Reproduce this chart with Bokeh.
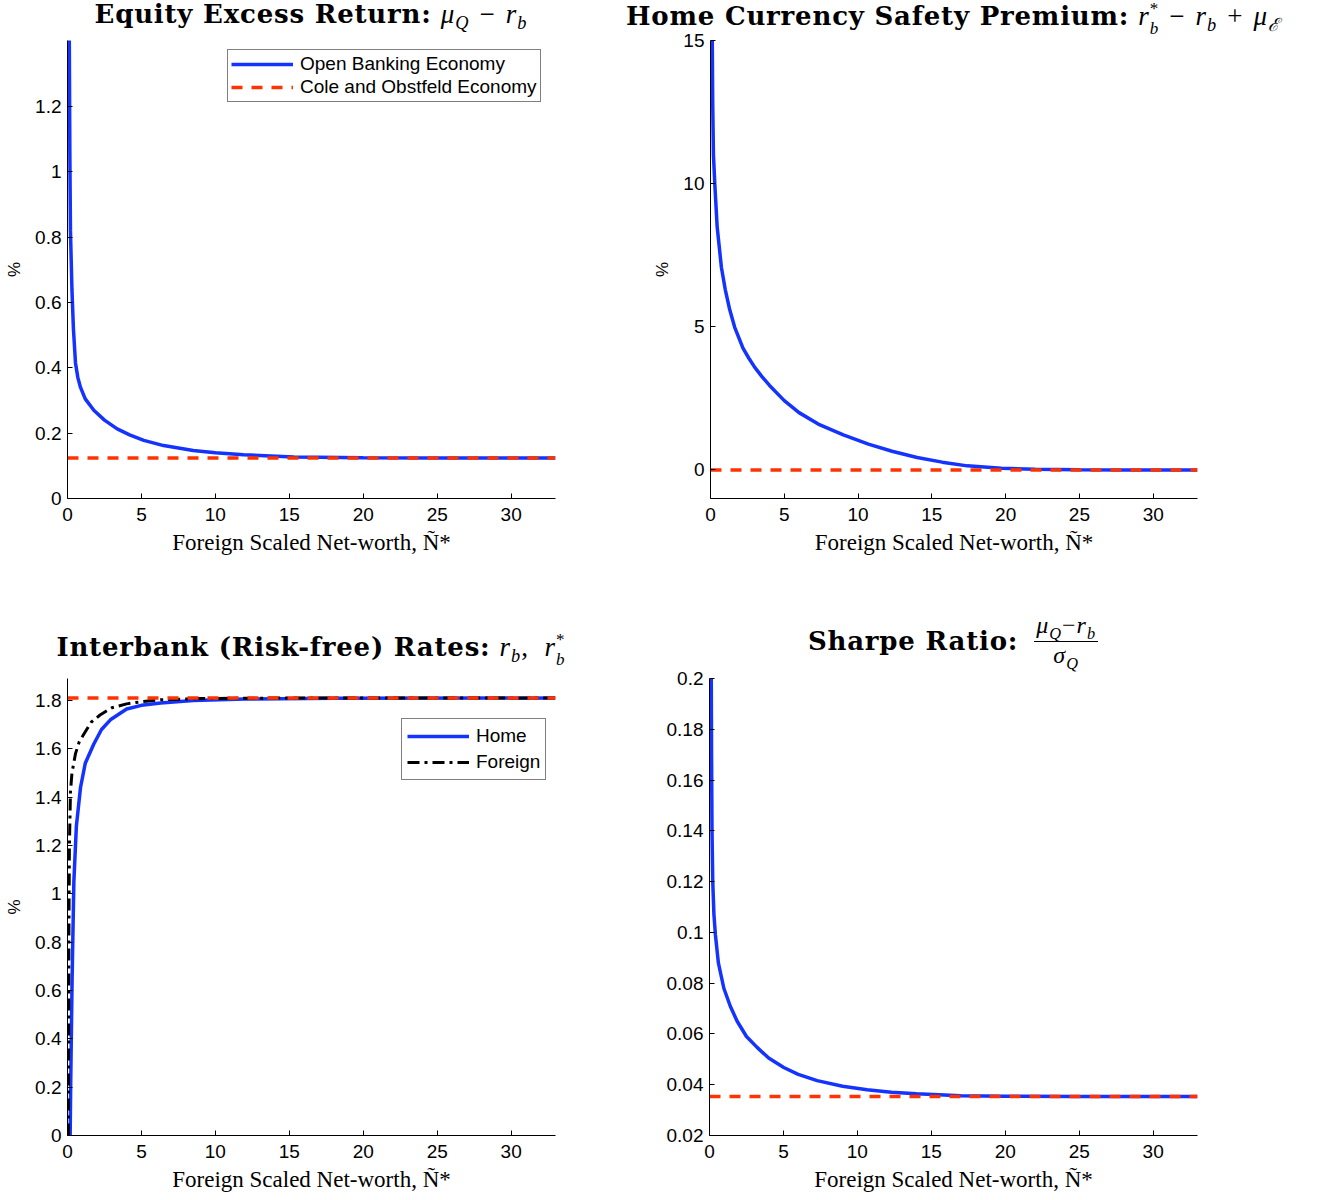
from bokeh.plotting import figure
from bokeh.models import (Range1d, FixedTicker, CustomJSTickFormatter, Legend,
                          LegendItem, Div)
from bokeh.layouts import column, row
from bokeh.embed import file_html
from bokeh.resources import INLINE

# ---------------- data ----------------
x_ticks = [0, 5, 10, 15, 20, 25, 30]
x_max = 33

# Panel 1: Equity excess return (%)
eq_x = [0.12, 0.16, 0.2, 0.3, 0.4, 0.54, 0.7, 0.88, 1.2, 1.78, 2.5, 3.36, 4.2,
        5.16, 6.5, 8.5, 10.0, 11.9, 15.3, 20.0, 25.0, 33.0]
eq_open = [1.42, 1.05, 0.82, 0.64, 0.52, 0.415, 0.37, 0.34, 0.305, 0.27, 0.24,
           0.213, 0.195, 0.178, 0.162, 0.147, 0.14, 0.134, 0.127, 0.125, 0.124, 0.124]
eq_cole = 0.124
eq_yticks = [0, 0.2, 0.4, 0.6, 0.8, 1.0, 1.2]
eq_ylim = (0, 1.402)

# Panel 2: Home currency safety premium (%)
sp_x = [0.12, 0.15, 0.2, 0.29, 0.45, 0.74, 1.0, 1.3, 1.64, 2.2, 2.6, 3.0, 3.5,
        4.0, 5.0, 6.0, 7.3, 9.0, 10.7, 12.3, 14.0, 15.7, 17.4, 19.7, 22.0, 25.0,
        28.0, 33.0]
sp_open = [15.0, 12.8, 11.0, 10.0, 8.5, 7.07, 6.3, 5.6, 4.98, 4.25, 3.9, 3.58,
           3.25, 2.95, 2.42, 2.0, 1.6, 1.22, 0.9, 0.65, 0.43, 0.27, 0.14, 0.06,
           0.02, 0.005, 0.0, 0.0]
sp_cole = 0.0
sp_yticks = [0, 5, 10, 15]
sp_ylim = (-1, 15)

# Panel 3: Interbank (risk-free) rates (%)
rb_home_x = [0.18, 0.22, 0.31, 0.43, 0.6, 0.88, 1.2, 1.78, 2.3, 2.9, 4.0, 5.0,
             6.3, 8.5, 12.0, 18.0, 33.0]
rb_home = [0.0, 0.23, 0.64, 1.05, 1.28, 1.44, 1.54, 1.62, 1.68, 1.72, 1.765,
           1.78, 1.79, 1.80, 1.806, 1.809, 1.81]
rb_for_x = [0.06, 0.08, 0.1, 0.13, 0.2, 0.3, 0.54, 0.8, 1.1, 1.6, 2.2, 3.0, 4.0,
            5.0, 6.3, 9.0, 14.0, 33.0]
rb_foreign = [0.0, 0.5, 0.9, 1.2, 1.42, 1.5, 1.58, 1.63, 1.66, 1.71, 1.74, 1.77,
              1.786, 1.795, 1.803, 1.808, 1.81, 1.81]
rb_cole = 1.81
rb_yticks = [0, 0.2, 0.4, 0.6, 0.8, 1.0, 1.2, 1.4, 1.6, 1.8]
rb_ylim = (0, 1.891)

# Panel 4: Sharpe ratio
sr_x = [0.12, 0.14, 0.17, 0.22, 0.3, 0.4, 0.6, 0.97, 1.4, 1.87, 2.5, 3.22, 4.0,
        5.02, 6.0, 7.28, 9.0, 10.66, 12.3, 14.0, 17.0, 20.0, 25.0, 33.0]
sr_open = [0.2, 0.17, 0.14, 0.12, 0.107, 0.099, 0.088, 0.078, 0.071, 0.065,
           0.059, 0.0547, 0.0505, 0.0468, 0.0441, 0.0416, 0.0394, 0.038, 0.037,
           0.0364, 0.0357, 0.0355, 0.0354, 0.0354]
sr_cole = 0.0354
sr_yticks = [0.02, 0.04, 0.06, 0.08, 0.1, 0.12, 0.14, 0.16, 0.18, 0.2]
sr_ylim = (0.02, 0.2)

const_x = [0, x_max]

# ---------------- style ----------------
BLUE = "#1433ff"
RED = "#ff3300"
TICK_FONT = "Liberation Sans"
LABEL_FONT = "Liberation Serif"

BL1, BL2, FW = 67, 59, 488
C1_W = BL1 + FW + 95
C2_W = BL2 + FW + 110
TOP_FH, BOT_FH = 458, 457
BT = 11
BB1, BB2 = 102, 64

fmt = CustomJSTickFormatter(code="return String(Math.round(tick*1000)/1000)")


def make_fig(width, height, bl, bt, bb, ylim, yticks, ylabel):
    p = figure(width=width, height=height, output_backend="svg",
               toolbar_location=None, x_range=Range1d(0, x_max),
               y_range=Range1d(*ylim), min_border_left=bl,
               min_border_right=width - bl - FW, min_border_top=bt,
               min_border_bottom=bb)
    p.outline_line_color = None
    p.grid.visible = False
    p.border_fill_color = None
    p.background_fill_color = "white"
    for ax in (p.xaxis[0], p.yaxis[0]):
        ax.axis_line_color = "black"
        ax.axis_line_width = 1
        ax.major_tick_line_color = "black"
        ax.major_tick_in = 5
        ax.major_tick_out = 0
        ax.minor_tick_line_color = None
        ax.major_label_text_font = TICK_FONT
        ax.major_label_text_font_size = "19px"
        ax.major_label_text_color = "black"
        ax.formatter = fmt
    p.xaxis.ticker = FixedTicker(ticks=x_ticks)
    p.yaxis.ticker = FixedTicker(ticks=yticks)
    p.xaxis.major_label_standoff = 9
    p.yaxis.major_label_standoff = 6
    p.xaxis.axis_label = "Foreign Scaled Net-worth, Ñ*"
    p.xaxis.axis_label_text_font = LABEL_FONT
    p.xaxis.axis_label_text_font_size = "23px"
    p.xaxis.axis_label_text_font_style = "normal"
    p.xaxis.axis_label_text_color = "black"
    p.xaxis.axis_label_standoff = 6
    if ylabel:
        p.yaxis.axis_label = ylabel
        p.yaxis.axis_label_text_font = TICK_FONT
        p.yaxis.axis_label_text_font_size = "17px"
        p.yaxis.axis_label_text_font_style = "normal"
        p.yaxis.axis_label_text_color = "black"
        p.yaxis.axis_label_standoff = 8
    return p


def style_legend(lg, row_h, pad, spacing):
    lg.border_line_color = "black"
    lg.border_line_width = 1
    lg.background_fill_color = "white"
    lg.background_fill_alpha = 1
    lg.label_text_font = TICK_FONT
    lg.label_text_font_size = "19px"
    lg.label_text_color = "black"
    lg.glyph_width = 62
    lg.glyph_height = row_h
    lg.label_height = row_h
    lg.label_standoff = 7
    lg.padding = pad
    lg.spacing = spacing
    lg.margin = 0


top_h = BT + TOP_FH + BB1
bot_h = BT + BOT_FH + BB2

# Panel 1
p1 = make_fig(C1_W, top_h, BL1, BT, BB1, eq_ylim, eq_yticks, "%")
r1 = p1.line(eq_x, eq_open, line_color=BLUE, line_width=3.5)
r1c = p1.line(const_x, [eq_cole, eq_cole], line_color=RED, line_width=3.5,
              line_dash="11 9")
lg1 = Legend(items=[LegendItem(label="Open Banking Economy", renderers=[r1]),
                    LegendItem(label="Cole and Obstfeld Economy", renderers=[r1c])],
             location=(160, 396))
style_legend(lg1, 20, 3, 1)
p1.add_layout(lg1)

# Panel 2
p2 = make_fig(C2_W, top_h, BL2, BT, BB1, sp_ylim, sp_yticks, "%")
p2.line(sp_x, sp_open, line_color=BLUE, line_width=3.5)
p2.line(const_x, [sp_cole, sp_cole], line_color=RED, line_width=3.5,
        line_dash="11 9")

# Panel 3
p3 = make_fig(C1_W, bot_h, BL1, BT, BB2, rb_ylim, rb_yticks, "%")
r3h = p3.line(rb_home_x, rb_home, line_color=BLUE, line_width=3.5)
r3f = p3.line(rb_for_x, rb_foreign, line_color="black", line_width=3,
              line_dash="12 5 3 5")
p3.line(const_x, [rb_cole, rb_cole], line_color=RED, line_width=3.5,
        line_dash="11 9")
lg3 = Legend(items=[LegendItem(label="Home", renderers=[r3h]),
                    LegendItem(label="Foreign", renderers=[r3f])],
             location=(334, 355))
style_legend(lg3, 24, 5, 2)
p3.add_layout(lg3)

# Panel 4
p4 = make_fig(C2_W, bot_h, BL2, BT, BB2, sr_ylim, sr_yticks, None)
p4.line(sr_x, sr_open, line_color=BLUE, line_width=3.5)
p4.line(const_x, [sr_cole, sr_cole], line_color=RED, line_width=3.5,
        line_dash="11 9")

# ---------------- titles ----------------
MATH = ("font-family:'Liberation Serif';font-style:italic;font-size:27px;"
        "letter-spacing:1px")


def sub(s):
    return f'<span style="font-size:0.68em;vertical-align:-0.35em">{s}</span>'


def subsup(sp, sb):
    # superscript stacked over subscript, separated so their boxes do not overlap
    return ('<span style="display:inline-flex;flex-direction:column;font-size:17px;'
            'line-height:1.15;vertical-align:11px;align-items:flex-start">'
            f'<span>{sp}</span><span>{sb}</span></span>')


def op(s):
    return f'<span style="font-style:normal;margin:0 10px">{s}</span>'


def up(s):
    return f'<span style="font-style:normal">{s}</span>'


t1 = ('<b>Equity Excess Return:</b>&nbsp;'
      f'<span style="{MATH}">μ{sub("Q")}{op("−")}r{sub("b")}</span>')
t2 = ('<b>Home Currency Safety Premium:</b>&nbsp;'
      f'<span style="{MATH}">r{subsup(up("*"), "b")}{op("−")}r{sub("b")}'
      f'{op("+")}μ{sub("ℰ")}</span>')
t3 = ('<b>Interbank (Risk-free) Rates:</b>&nbsp;'
      f'<span style="{MATH}">r{sub("b")}{up(",")}&nbsp;&nbsp;r{subsup(up("*"), "b")}</span>')
frac = ('<span style="display:inline-flex;flex-direction:column;align-items:center;'
        f'position:relative;top:-17px;line-height:0.95;margin-left:16px;{MATH};font-size:24px">'
        f'<span style="border-bottom:1.5px solid #000;padding:0 2px 0 2px">μ{sub("Q")}{up("−")}r{sub("b")}</span>'
        f'<span style="padding-top:2px">σ{sub("Q")}</span></span>')
t4 = f'<b>Sharpe Ratio:</b>{frac}'


def title_div(html, width, height, left, top):
    inner = ('<div style="position:relative;top:%dpx;margin-left:%dpx;width:%dpx;'
             'display:flex;justify-content:center;align-items:baseline;white-space:nowrap;'
             "font-family:'DejaVu Serif';font-size:26px;letter-spacing:0.8px;"
             'line-height:30px;color:#000"><span>%s</span></div>') % (top, left, FW, html)
    return Div(text=inner, width=width, height=height, margin=(0, 0, 0, 0),
               styles={"overflow": "visible"})


d1 = title_div(t1, C1_W, 40 - BT, BL1, -1)
d2 = title_div(t2, C2_W, 40 - BT, BL2, -1)
d3 = title_div(t3, C1_W, 78 - BT, BL1, 30)
d4 = title_div(t4, C2_W, 78 - BT, BL2, 26)

layout = column(row(d1, d2), row(p1, p2), row(d3, d4), row(p3, p4))

open("out.html", "w").write(file_html(layout, INLINE))
